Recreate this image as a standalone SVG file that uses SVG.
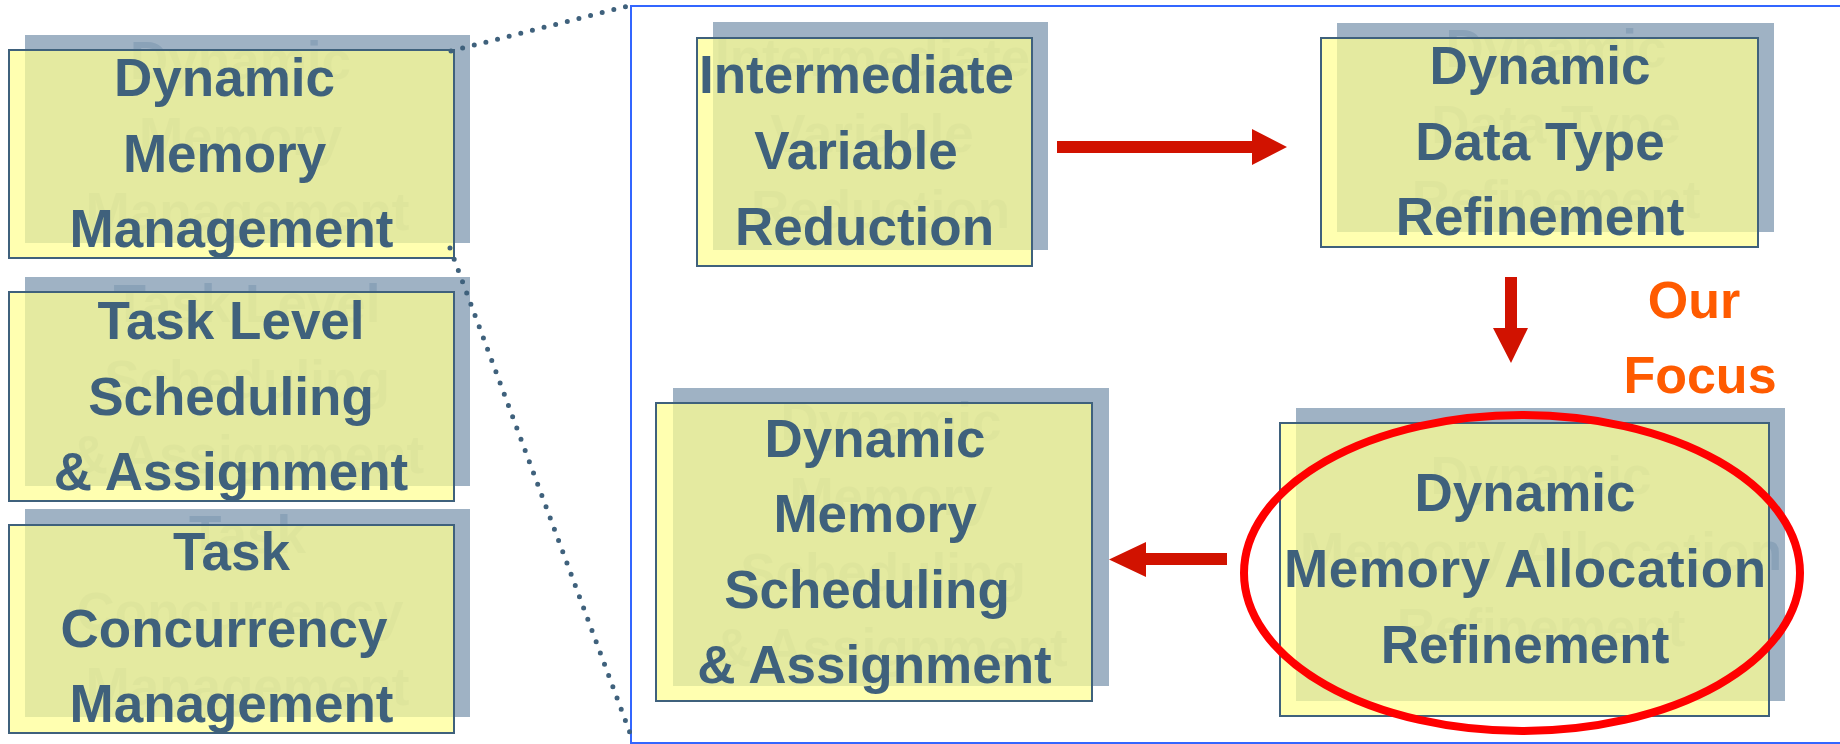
<svg xmlns="http://www.w3.org/2000/svg" width="1840" height="744" viewBox="0 0 1840 744">
<style>
.shadow{fill:#9FB2C4}
.box{fill:#FFFF92;fill-opacity:.72;stroke:#3F617C;stroke-width:2}
.lbl{font-family:"Liberation Sans",Arial,sans-serif;font-weight:bold;font-size:53px;text-anchor:middle;fill:#3F617C}
.ghost{fill:#8AA2B8}
.arrow{fill:#D11200}
.dots{fill:none;stroke:#3F617C;stroke-width:5;stroke-linecap:round;stroke-dasharray:0 12}
.focus{font-family:"Liberation Sans",Arial,sans-serif;font-weight:bold;font-size:52px;text-anchor:middle;fill:#FF5B00}
</style>
<rect width="1840" height="744" fill="#FFFFFF"/>
<rect id="zoom-frame" x="631" y="6" width="1230" height="737" fill="none" stroke="#3366FF" stroke-width="2"/>

<g id="n-dmm">
<rect class="shadow" x="25" y="35" width="445" height="208"/>
<g class="lbl ghost" transform="translate(16,-17)"><text x="224.5" y="96">Dynamic</text><text x="224.5" y="172">Memory</text><text x="231.5" y="247">Management</text></g>
<rect class="box" x="9" y="50" width="445" height="208"/>
<g class="lbl"><text x="224.5" y="96">Dynamic</text><text x="224.5" y="172">Memory</text><text x="231.5" y="247">Management</text></g>
</g>

<g id="n-tls">
<rect class="shadow" x="25" y="277" width="445" height="209"/>
<g class="lbl ghost" transform="translate(16,-17)"><text x="231" y="339">Task Level</text><text x="231" y="415">Scheduling</text><text x="231" y="490">&amp; Assignment</text></g>
<rect class="box" x="9" y="292" width="445" height="209"/>
<g class="lbl"><text x="231" y="339">Task Level</text><text x="231" y="415">Scheduling</text><text x="231" y="490">&amp; Assignment</text></g>
</g>

<g id="n-tcm">
<rect class="shadow" x="25" y="509" width="445" height="208"/>
<g class="lbl ghost" transform="translate(16,-17)"><text x="231.5" y="570">Task</text><text x="224" y="647">Concurrency</text><text x="231.5" y="722">Management</text></g>
<rect class="box" x="9" y="525" width="445" height="208"/>
<g class="lbl"><text x="231.5" y="570">Task</text><text x="224" y="647">Concurrency</text><text x="231.5" y="722">Management</text></g>
</g>

<g id="n-ivr">
<rect class="shadow" x="713" y="22" width="335" height="228"/>
<g class="lbl ghost" transform="translate(16,-17)"><text x="856.5" y="93">Intermediate</text><text x="856" y="169">Variable</text><text x="864.5" y="245">Reduction</text></g>
<rect class="box" x="697" y="38" width="335" height="228"/>
<g class="lbl"><text x="856.5" y="93">Intermediate</text><text x="856" y="169">Variable</text><text x="864.5" y="245">Reduction</text></g>
</g>

<g id="n-ddt">
<rect class="shadow" x="1337" y="23" width="437" height="209"/>
<g class="lbl ghost" transform="translate(16,-17)"><text x="1540" y="84">Dynamic</text><text x="1540" y="160">Data Type</text><text x="1540" y="235">Refinement</text></g>
<rect class="box" x="1321" y="38" width="437" height="209"/>
<g class="lbl"><text x="1540" y="84">Dynamic</text><text x="1540" y="160">Data Type</text><text x="1540" y="235">Refinement</text></g>
</g>

<g id="n-dms">
<rect class="shadow" x="673" y="388" width="436" height="298"/>
<g class="lbl ghost" transform="translate(16,-17)"><text x="875" y="457">Dynamic</text><text x="875" y="532">Memory</text><text x="867" y="608">Scheduling</text><text x="874.5" y="683">&amp; Assignment</text></g>
<rect class="box" x="656" y="403" width="436" height="298"/>
<g class="lbl"><text x="875" y="457">Dynamic</text><text x="875" y="532">Memory</text><text x="867" y="608">Scheduling</text><text x="874.5" y="683">&amp; Assignment</text></g>
</g>

<g id="n-dma">
<rect class="shadow" x="1296" y="408" width="489" height="293"/>
<g class="lbl ghost" transform="translate(16,-17)"><text x="1525" y="511">Dynamic</text><text x="1525" y="587" textLength="482" lengthAdjust="spacing">Memory Allocation</text><text x="1525" y="663">Refinement</text></g>
<rect class="box" x="1280" y="423" width="489" height="293"/>
<g class="lbl"><text x="1525" y="511">Dynamic</text><text x="1525" y="587" textLength="482" lengthAdjust="spacing">Memory Allocation</text><text x="1525" y="663">Refinement</text></g>
</g>

<g id="connectors">
<line class="dots" x1="451" y1="51" x2="628" y2="6"/>
<line class="dots" x1="450" y1="248" x2="633" y2="741"/>
<polygon class="arrow" points="1057,141 1252,141 1252,129 1287,147 1252,165 1252,153 1057,153"/>
<polygon class="arrow" points="1505,277 1517,277 1517,328 1528,328 1511,363 1493,328 1505,328"/>
<polygon class="arrow" points="1227,553 1146,553 1146,542 1109,559.5 1146,577 1146,565 1227,565"/>
</g>

<g id="focus">
<ellipse cx="1522" cy="573" rx="278" ry="158" fill="none" stroke="#FF0000" stroke-width="8"/>
<text class="focus" x="1694" y="318">Our</text>
<text class="focus" x="1700" y="393">Focus</text>
</g>
</svg>
